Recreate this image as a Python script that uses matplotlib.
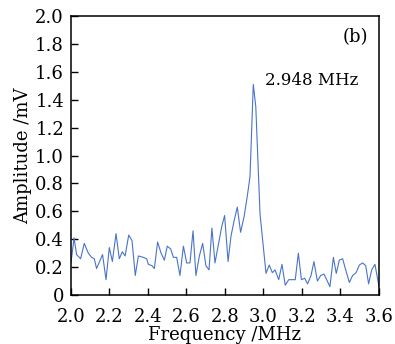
import numpy as np
import matplotlib
matplotlib.use("Agg")
import matplotlib.pyplot as plt

# Set the font:
plt.rcParams.update({'font.family': 'DejaVu Serif', 'font.size': 13})

# Spectrum (frequency in MHz, amplitude in mV):
freq = [2.000, 2.016, 2.029, 2.050, 2.069, 2.090, 2.107, 2.121, 2.133, 2.164,
        2.182, 2.199, 2.215, 2.234, 2.251, 2.267, 2.281, 2.300, 2.317, 2.334,
        2.350, 2.376, 2.393, 2.402, 2.421, 2.433, 2.450, 2.468, 2.485, 2.500,
        2.518, 2.532, 2.549, 2.566, 2.584, 2.601, 2.618, 2.634, 2.649, 2.667,
        2.684, 2.701, 2.717, 2.732, 2.748, 2.764, 2.783, 2.798, 2.816, 2.831,
        2.847, 2.864, 2.881, 2.899, 2.916, 2.930, 2.947, 2.960, 2.982, 3.013,
        3.030, 3.046, 3.060, 3.079, 3.096, 3.113, 3.131, 3.150, 3.165, 3.181,
        3.197, 3.214, 3.229, 3.247, 3.262, 3.280, 3.297, 3.314, 3.328, 3.345,
        3.363, 3.378, 3.394, 3.411, 3.429, 3.446, 3.463, 3.481, 3.498, 3.515,
        3.531, 3.546, 3.562, 3.579, 3.600]
amplitude = [0.23, 0.41, 0.29, 0.26, 0.37, 0.30, 0.27, 0.26, 0.19, 0.29,
             0.11, 0.34, 0.24, 0.44, 0.26, 0.31, 0.28, 0.43, 0.39, 0.14,
             0.28, 0.27, 0.26, 0.22, 0.21, 0.19, 0.38, 0.30, 0.25, 0.35,
             0.33, 0.27, 0.27, 0.14, 0.35, 0.23, 0.23, 0.46, 0.14, 0.28,
             0.37, 0.21, 0.18, 0.48, 0.23, 0.35, 0.49, 0.57, 0.24, 0.42,
             0.53, 0.63, 0.45, 0.56, 0.71, 0.85, 1.51, 1.35, 0.58, 0.155,
             0.215, 0.16, 0.18, 0.11, 0.22, 0.07, 0.11, 0.11, 0.11, 0.30,
             0.11, 0.12, 0.08, 0.14, 0.24, 0.10, 0.14, 0.15, 0.11, 0.06,
             0.27, 0.155, 0.25, 0.26, 0.17, 0.09, 0.14, 0.16, 0.215, 0.23,
             0.21, 0.08, 0.18, 0.22, 0.06]
x_ticks = [2.0, 2.2, 2.4, 2.6, 2.8, 3.0, 3.2, 3.4, 3.6]
y_ticks = [0, 0.2, 0.4, 0.6, 0.8, 1.0, 1.2, 1.4, 1.6, 1.8, 2.0]
y_tick_labels = ["0", "0.2", "0.4", "0.6", "0.8", "1.0", "1.2", "1.4", "1.6", "1.8", "2.0"]

fig = plt.figure(figsize=[3.95, 3.44], dpi=100)
ax = fig.add_axes([0.1797, 0.1424, 0.7798, 0.8111])
ax.plot(freq, amplitude, color="#4a74c9", linewidth=0.8)

# Decorate the axes:
ax.set_xlim(2.0, 3.6)
ax.set_ylim(0, 2.0)
ax.set_xticks(x_ticks)
ax.set_xticklabels(["{:.1f}".format(t) for t in x_ticks])
ax.set_yticks(y_ticks)
ax.set_yticklabels(y_tick_labels)
ax.tick_params(direction="in", length=5, width=1)
ax.tick_params(axis="x", pad=9)
ax.tick_params(axis="y", pad=5)
for sp in ax.spines.values():
    sp.set_linewidth(1.1)
ax.set_xlabel("Frequency /MHz", labelpad=0)
ax.set_ylabel("Amplitude /mV", labelpad=2)
ax.text(0.965, 0.955, "(b)", transform=ax.transAxes, ha="right", va="top")
ax.text(3.01, 1.54, "2.948 MHz", ha="left", va="center", fontsize=12)

fig.savefig("out.png", dpi=100)
plt.close()
